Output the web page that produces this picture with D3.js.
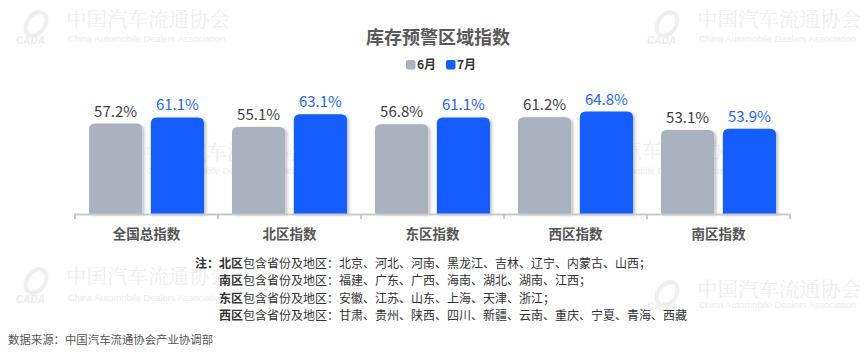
<!DOCTYPE html>
<html lang="zh">
<head>
<meta charset="utf-8" />
<title>库存预警区域指数</title>
<script src="https://cdn.jsdelivr.net/npm/d3@7"></script>
<style>
  body { margin: 0; background: #fff; }
  svg { display: block; font-family: "Noto Sans CJK SC", "Noto Sans", sans-serif; }
</style>
</head>
<body>
<script>
  // data
  var categories = ["全国总指数", "北区指数", "东区指数", "西区指数", "南区指数"];
  var seriesNames = ["6月", "7月"];
  var june = [57.2, 55.1, 56.8, 61.2, 53.1];
  var july = [61.1, 63.1, 61.1, 64.8, 53.9];
  var noteRegions = ["北区", "南区", "东区", "西区"];
  var noteProvinces = [
    "北京、河北、河南、黑龙江、吉林、辽宁、内蒙古、山西；",
    "福建、广东、广西、海南、湖北、湖南、江西；",
    "安徽、江苏、山东、上海、天津、浙江；",
    "甘肃、贵州、陕西、四川、新疆、云南、重庆、宁夏、青海、西藏"
  ];
  var source = "数据来源：中国汽车流通协会产业协调部";

  var colors = ["#a9b2be", "#165dff"];
  var labelColors = ["#404040", "#2468f2"];

  var W = 865, H = 356;
  var svg = d3.select("body").append("svg")
      .attr("width", W)
      .attr("height", H);

  var defs = svg.append("defs");
  var f = defs.append("filter").attr("id", "shadow")
      .attr("x", "-20%").attr("y", "-20%").attr("width", "150%").attr("height", "150%");
  f.append("feDropShadow")
      .attr("dx", 2).attr("dy", 1)
      .attr("stdDeviation", 1.5)
      .attr("flood-color", "#000")
      .attr("flood-opacity", 0.25);

  // faint watermarks
  function watermark(x, y, dy) {
    var g = svg.append("g").attr("transform", `translate(${x},${y})`);
    g.append("text")
        .attr("x", 0).attr("y", 0)
        .attr("font-size", 20.5)
        .attr("font-family", "'Noto Serif CJK SC', 'Noto Sans CJK SC', serif")
        .attr("fill", "#eeeeee")
        .text("中国汽车流通协会");
    g.append("text")
        .attr("x", 2).attr("y", dy)
        .attr("font-size", 9.3)
        .attr("font-family", "Liberation Sans, Arial, sans-serif")
        .attr("fill", "#ebebeb")
        .text("China Automobile Dealers Association");
    g.append("text")
        .attr("x", -50).attr("y", dy + 2)
        .attr("font-size", 10)
        .attr("font-style", "italic")
        .attr("font-weight", "bold")
        .attr("font-family", "Liberation Sans, Arial, sans-serif")
        .attr("fill", "#ececec")
        .text("CADA");
    g.append("ellipse")
        .attr("cx", -30).attr("cy", -3)
        .attr("rx", 9).attr("ry", 13)
        .attr("transform", "rotate(35,-30,-3)")
        .attr("fill", "none")
        .attr("stroke", "#efefef")
        .attr("stroke-width", 4);
  }
  watermark(66, 27, 15);
  watermark(697, 27, 15);
  watermark(66, 284, 17);
  watermark(697, 297, 11);
  watermark(145, 160, 14);
  watermark(580, 158, 16);

  // title
  svg.append("text")
      .attr("x", 438).attr("y", 44)
      .attr("text-anchor", "middle")
      .attr("font-size", 18)
      .attr("font-weight", "bold")
      .attr("fill", "#595959")
      .text("库存预警区域指数");

  // legend
  var legendX = [406, 446];
  seriesNames.forEach(function (name, i) {
    svg.append("rect")
        .attr("x", legendX[i]).attr("y", 60)
        .attr("width", 9.5).attr("height", 9.5)
        .attr("rx", 2)
        .attr("fill", colors[i]);
    svg.append("text")
        .attr("x", legendX[i] + 11).attr("y", 69)
        .attr("font-size", 12)
        .attr("font-weight", "bold")
        .attr("fill", "#333")
        .text(name);
  });

  // scales
  var x0 = d3.scaleBand(categories, [75, 790]);
  var x1 = d3.scaleBand([0, 1], [0, 115]).paddingInner(0.14);
  var y = d3.scaleLinear([0, 100], [214, 56]);

  var rows = categories.map(function (c, i) {
    return { cat: c, vals: [june[i], july[i]] };
  });

  function topRounded(x, yTop, w, h, r) {
    return `M${x},${yTop + h}V${yTop + r}Q${x},${yTop} ${x + r},${yTop}` +
      `H${x + w - r}Q${x + w},${yTop} ${x + w},${yTop + r}V${yTop + h}Z`;
  }

  var groups = svg.append("g").selectAll("g")
      .data(rows)
      .join("g")
      .attr("transform", d => `translate(${x0(d.cat) + (x0.bandwidth() - 115) / 2},0)`);

  groups.selectAll("path")
      .data(d => d.vals.map((v, i) => ({ v: v, i: i })))
      .join("path")
      .attr("d", d => topRounded(x1(d.i), y(d.v), x1.bandwidth(), y(0) - y(d.v), 6))
      .attr("fill", d => colors[d.i])
      .attr("filter", "url(#shadow)");

  groups.selectAll("text")
      .data(d => d.vals.map((v, i) => ({ v: v, i: i })))
      .join("text")
      .attr("x", d => x1(d.i) + x1.bandwidth() / 2)
      .attr("y", d => y(d.v) - 7)
      .attr("text-anchor", "middle")
      .attr("font-size", 15)
      .attr("fill", d => labelColors[d.i])
      .text(d => d.v.toFixed(1) + "%");

  // axis
  var axis = svg.append("g")
      .attr("transform", "translate(0,214)")
      .call(d3.axisBottom(x0).tickSize(0).tickPadding(15));
  axis.select(".domain")
      .attr("d", "M75,5V0.5H790V5")
      .attr("stroke", "#c9c9c9")
      .attr("stroke-width", 2);
  axis.selectAll(".tick text")
      .attr("font-size", 13.5)
      .attr("font-weight", "bold")
      .attr("font-family", "'Noto Sans CJK SC', sans-serif")
      .attr("fill", "#555")
      .attr("dy", "0.71em");
  axis.selectAll(".sep")
      .data(x0.domain().slice(1))
      .join("line")
      .attr("class", "sep")
      .attr("x1", d => x0(d)).attr("x2", d => x0(d))
      .attr("y1", 0).attr("y2", 5)
      .attr("stroke", "#c9c9c9")
      .attr("stroke-width", 2);

  // notes
  svg.append("text")
      .attr("x", 195).attr("y", 267.5)
      .attr("font-size", 12)
      .attr("font-weight", "bold")
      .attr("fill", "#333")
      .text("注：");
  noteRegions.forEach(function (r, i) {
    var t = svg.append("text")
        .attr("x", 219).attr("y", 267.5 + i * 17.5)
        .attr("font-size", 12)
        .attr("fill", "#333");
    t.append("tspan").attr("font-weight", "bold").text(r);
    t.append("tspan").text("包含省份及地区：" + noteProvinces[i]);
  });

  svg.append("text")
      .attr("x", 8).attr("y", 344)
      .attr("font-size", 11.4)
      .attr("fill", "#555")
      .text(source);
</script>
</body>
</html>
